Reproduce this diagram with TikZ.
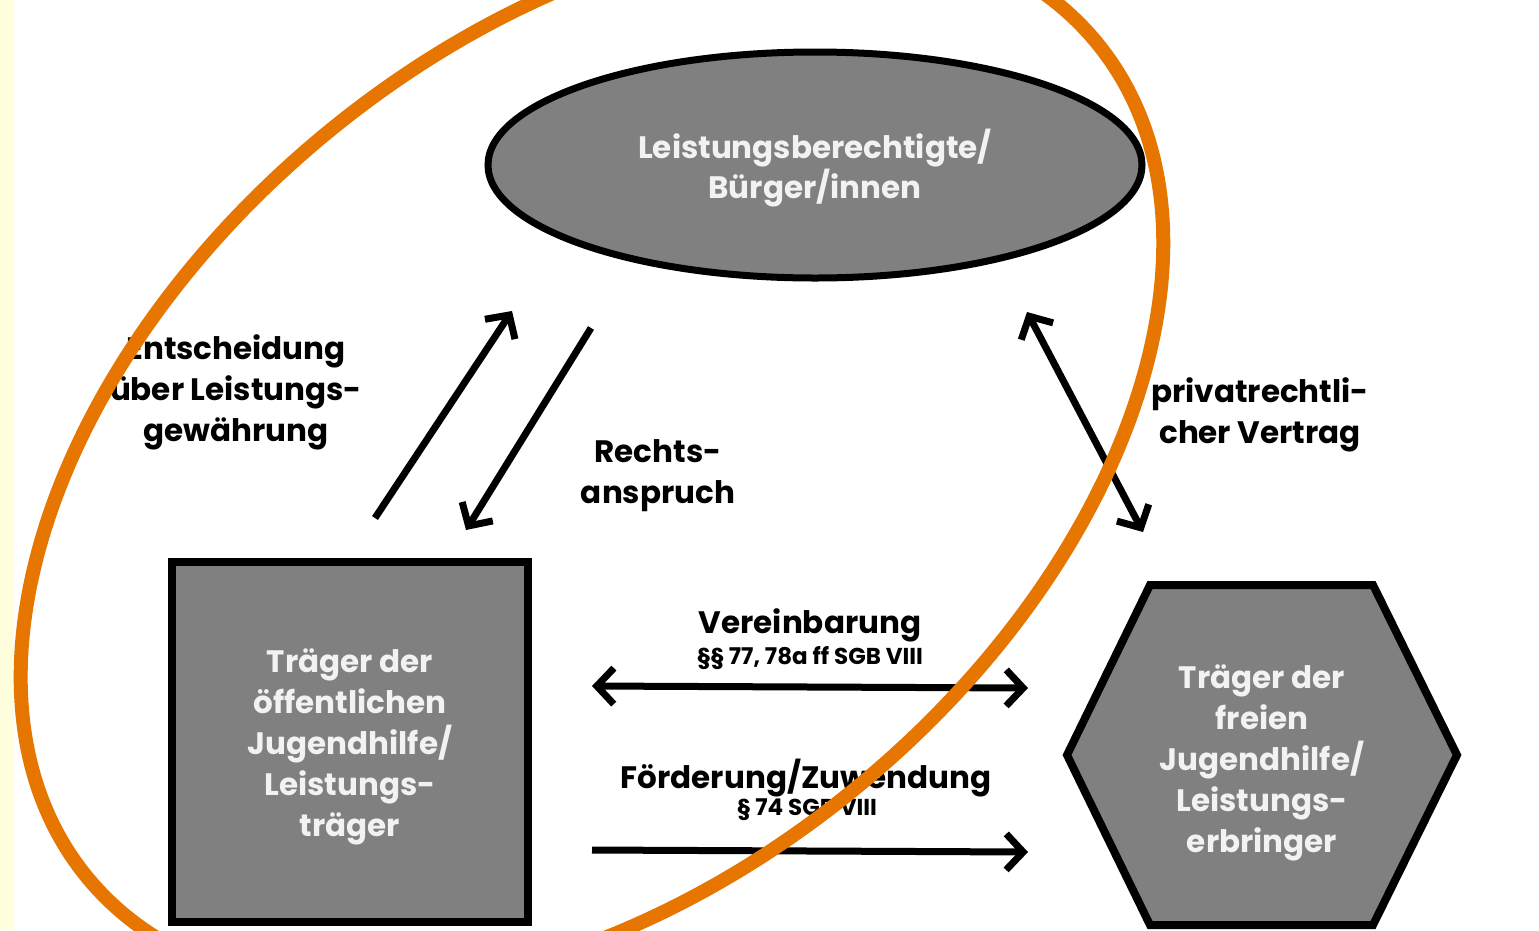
\documentclass[tikz,border=0pt]{standalone}
\usepackage{fontspec}
\setmainfont{Poppins}
\usetikzlibrary{arrows.meta,shapes.geometric}
\definecolor{ring}{RGB}{230,118,0}
\definecolor{shapegray}{RGB}{128,128,128}
\definecolor{stripyellow}{RGB}{255,255,222}
\definecolor{intext}{RGB}{242,242,242}
\begin{document}
\begin{tikzpicture}[x=1pt,y=1pt,
  lbl/.style={font=\fontsize{31}{41}\selectfont\bfseries, align=center, text=black, inner sep=0pt},
  sub/.style={font=\fontsize{23}{26}\selectfont\bfseries, align=center, text=black, inner sep=0pt},
  inlbl/.style={lbl, text=intext},
  barb/.tip={Straight Barb[length=17pt,width=36pt]},
  arr/.style={line width=7pt, -barb},
  darr/.style={line width=7pt, barb-barb},
  outline/.style={draw=black, line width=8pt, fill=shapegray}
]
\useasboundingbox (0,0) rectangle (1539,-930);
\clip (0,0) rectangle (1539,-930);
\fill[white] (0,0) rectangle (1539,-930);
\fill[stripyellow] (0,0) rectangle (14,-930);

% shapes
\node[outline, ellipse, line width=7pt, minimum width=654pt, minimum height=226pt, inner sep=0pt]
      (citizen) at (815,-165) {};
\node[inlbl, font=\fontsize{31}{40}\selectfont\bfseries] (citizentext) at (815,-168)
      {Leistungsberechtigte/\\Bürger/innen};
\node[outline, rectangle, minimum width=356pt, minimum height=360pt, inner sep=0pt]
      (public) at (350,-742) {};
\node[inlbl] (publictext) at (350,-747)
      {Träger der\\öffentlichen\\Jugendhilfe/\\Leistungs-\\träger};
\draw[outline] (1150,-585) -- (1373,-585) -- (1457,-755) -- (1373,-925)
      -- (1150,-925) -- (1067,-755) -- cycle;
\node[inlbl] (free) at (1262,-763) {Träger der\\freien\\Jugendhilfe/\\Leistungs-\\erbringer};

% labels
\node[lbl] (decision) at (236,-392) {Entscheidung\\über Leistungs-\\gewährung};
\node[lbl] (claim) at (658,-476) {Rechts-\\anspruch};
\node[lbl] (contract) at (1260,-415) {privatrechtli-\\cher Vertrag};
\node[lbl] (agree) at (810,-625) {Vereinbarung};
\node[sub] (agreesub) at (810,-658) {§§ 77, 78a ff SGB VIII};
\node[lbl] (fund) at (806,-778) {Förderung/Zuwendung};
\node[sub] (fundsub) at (807,-810) {§ 74 SGB VIII};

% arrow ends
\coordinate (a1s) at (375,-518); \coordinate (a1e) at (512,-311);
\coordinate (a2s) at (591,-328); \coordinate (a2e) at (466,-530);
\coordinate (a3s) at (1027,-312); \coordinate (a3e) at (1143,-532);
\coordinate (a4s) at (592,-686); \coordinate (a4e) at (1028,-688);
\coordinate (a5s) at (592,-850); \coordinate (a5e) at (1028,-852);

\draw[arr] (a1s) -- (a1e);
\draw[arr] (a2s) -- (a2e);
\draw[darr] (a3s) -- (a3e);
\draw[darr] (a4s) -- (a4e);
\draw[arr] (a5s) -- (a5e);

% orange ring
\coordinate (ringc) at (592,-460);
\begin{scope}[rotate around={39.7:(ringc)}]
\draw[ring, line width=14pt] (ringc) ellipse [x radius=655, y radius=421];
\end{scope}
\end{tikzpicture}
\end{document}
